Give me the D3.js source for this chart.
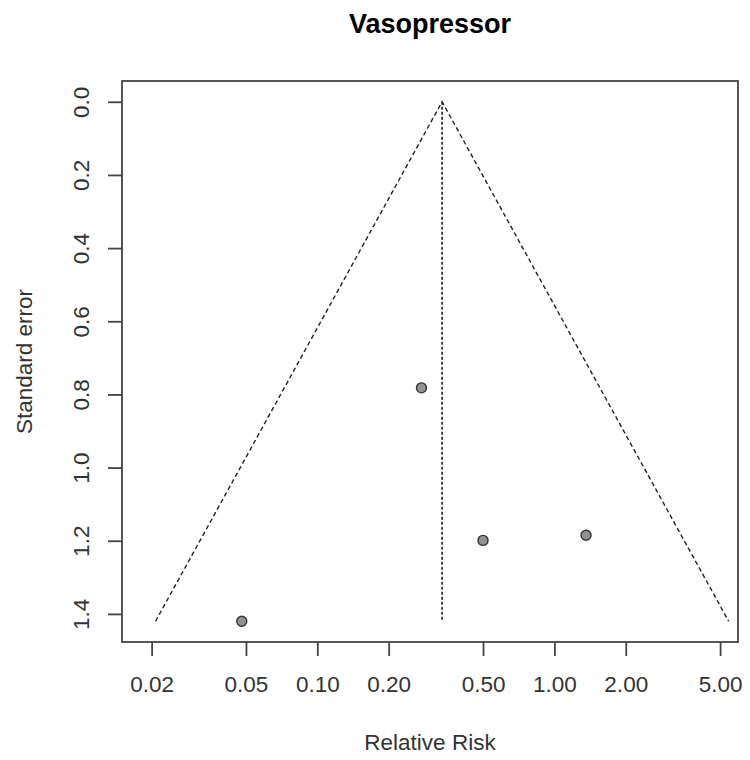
<!DOCTYPE html>
<html>
<head>
<meta charset="utf-8">
<script src="https://cdn.jsdelivr.net/npm/d3@7"></script>
<style>
	body { margin: 0; background: #fff; }
	text { font-family: "Liberation Sans", Arial, sans-serif; }
</style>
</head>
<body>
<script>
// study estimates (relative risk) and their standard errors
const studyRR = [0.048, 0.275, 0.50, 1.36];
const studySE = [1.42, 0.782, 1.199, 1.185];
// pooled estimate, centre of the funnel
const summaryRR = 0.336;
const seMax = 1.42;

const xTicks = [0.02, 0.05, 0.10, 0.20, 0.50, 1.00, 2.00, 5.00];
const yTicks = [0.0, 0.2, 0.4, 0.6, 0.8, 1.0, 1.2, 1.4];

const width = 750, height = 760;
const box = { left: 122, right: 738, top: 81, bottom: 642 };
const fontSize = 22.5;

const svg = d3.select("body").append("svg")
	.attr("width", width)
	.attr("height", height);

const x = d3.scaleLog()
	.domain([0.0150, 5.95])
	.range([box.left, box.right]);

const y = d3.scaleLinear()
	.domain([-0.0568, 1.4768])
	.range([box.top, box.bottom]);

const ink = "#222";

// funnel (95% pseudo confidence region)
const z = 1.96;
const lower = Math.exp(Math.log(summaryRR) - z * seMax);
const upper = Math.exp(Math.log(summaryRR) + z * seMax);

svg.append("path")
	.attr("d", d3.line()([
		[x(lower), y(seMax)],
		[x(summaryRR), y(0)],
		[x(upper), y(seMax)]
	]))
	.attr("fill", "none")
	.attr("stroke", ink)
	.attr("stroke-width", 1.4)
	.attr("stroke-dasharray", "4.5,3");

svg.append("line")
	.attr("x1", x(summaryRR)).attr("x2", x(summaryRR))
	.attr("y1", y(0)).attr("y2", y(seMax))
	.attr("stroke", ink)
	.attr("stroke-width", 1.6)
	.attr("stroke-dasharray", "3,2");

// studies
svg.selectAll("circle.study")
	.data(studyRR.map((rr, i) => ({ rr, se: studySE[i] })))
	.join("circle")
	.attr("class", "study")
	.attr("cx", d => x(d.rr))
	.attr("cy", d => y(d.se))
	.attr("r", 5)
	.attr("fill", "#929292")
	.attr("stroke", "#333")
	.attr("stroke-width", 1.4);

// plot frame
svg.append("rect")
	.attr("x", box.left)
	.attr("y", box.top)
	.attr("width", box.right - box.left)
	.attr("height", box.bottom - box.top)
	.attr("fill", "none")
	.attr("stroke", "#444")
	.attr("stroke-width", 1.8);

// x axis
const xAxis = svg.append("g")
	.attr("transform", `translate(0, ${box.bottom})`)
	.call(d3.axisBottom(x).tickValues(xTicks).tickFormat(d3.format(".2f")).tickSize(14));
xAxis.select(".domain").remove();
xAxis.selectAll("line").attr("stroke", "#444").attr("stroke-width", 1.8);
xAxis.selectAll("text")
	.attr("y", 50)
	.attr("dy", null)
	.attr("font-size", fontSize)
	.attr("fill", "#333");

// y axis, labels rotated like R's default
const yAxis = svg.append("g")
	.attr("transform", `translate(${box.left}, 0)`)
	.call(d3.axisLeft(y).tickValues(yTicks).tickFormat(d3.format(".1f")).tickSize(14));
yAxis.select(".domain").remove();
yAxis.selectAll("line").attr("stroke", "#444").attr("stroke-width", 1.8);
yAxis.selectAll("text")
	.attr("x", null).attr("dy", null)
	.attr("text-anchor", "middle")
	.attr("transform", "translate(-33, 0) rotate(-90)")
	.attr("font-size", fontSize)
	.attr("fill", "#333");

// titles
svg.append("text")
	.attr("x", (box.left + box.right) / 2)
	.attr("y", 33)
	.attr("text-anchor", "middle")
	.attr("font-size", 27)
	.attr("font-weight", "bold")
	.attr("fill", "#000")
	.text("Vasopressor");

svg.append("text")
	.attr("x", (box.left + box.right) / 2)
	.attr("y", 750)
	.attr("text-anchor", "middle")
	.attr("font-size", fontSize)
	.attr("fill", "#333")
	.text("Relative Risk");

svg.append("text")
	.attr("transform", `translate(32, ${(box.top + box.bottom) / 2}) rotate(-90)`)
	.attr("text-anchor", "middle")
	.attr("font-size", fontSize)
	.attr("fill", "#333")
	.text("Standard error");
</script>
</body>
</html>
